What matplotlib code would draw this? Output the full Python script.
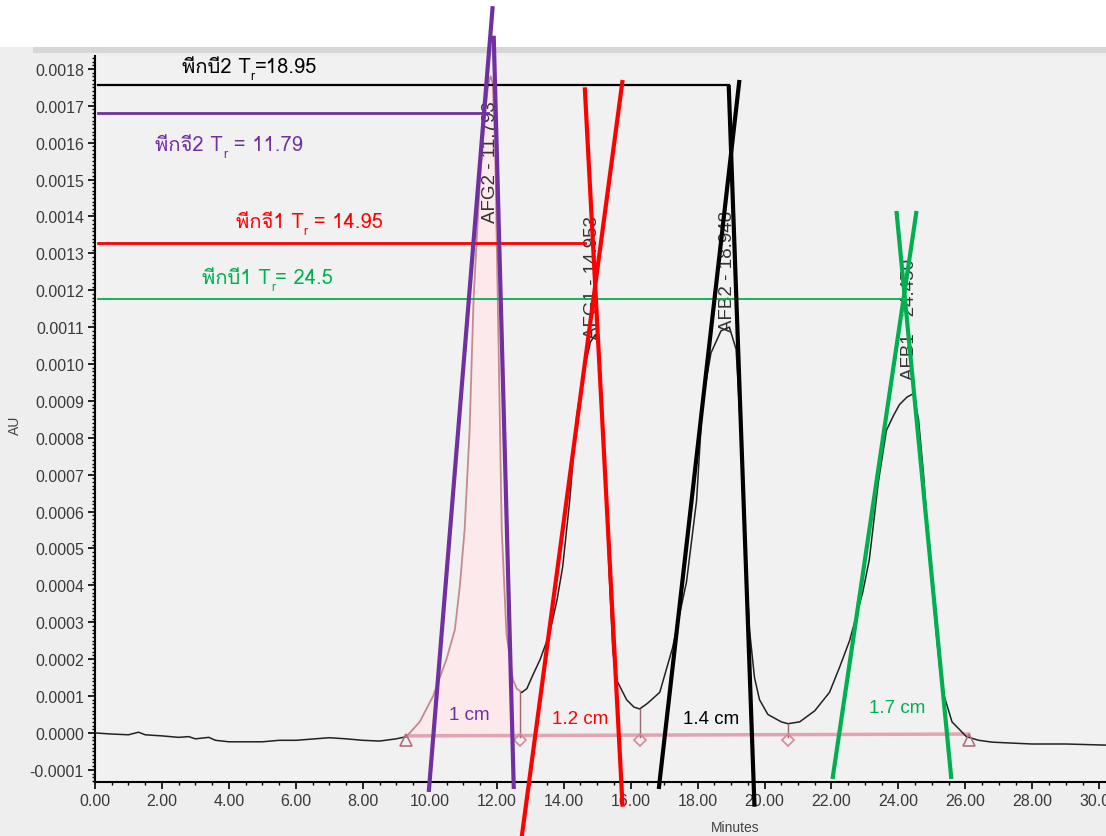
import numpy as np
import matplotlib
matplotlib.use("Agg")
import matplotlib.pyplot as plt
from matplotlib import font_manager
from matplotlib.patches import Rectangle
from matplotlib.ticker import MultipleLocator, FormatStrFormatter

# chromatogram trace (minutes, AU)
time_min = [0.0, 0.5, 1.0, 1.3, 1.5, 2.0, 2.5, 2.8, 3.0, 3.4, 3.6, 4.0, 5.0, 5.5, 6.0, 7.0, 7.5,
            8.0, 8.5, 9.0, 9.3,
            9.7, 10.1, 10.5, 10.75, 10.9, 11.04, 11.19, 11.31, 11.5, 11.65, 11.75, 11.82, 11.88,
            11.95, 12.03, 12.15, 12.29, 12.48, 12.6, 12.75,
            12.9, 13.07, 13.3, 13.58, 13.8, 13.97, 14.18, 14.39, 14.6, 14.8, 14.95, 15.05, 15.2,
            15.35, 15.47, 15.6, 15.88, 16.1, 16.27,
            16.5, 16.87, 17.25, 17.67, 17.97, 18.15, 18.4, 18.7, 18.95, 19.15, 19.3, 19.45, 19.55,
            19.7, 19.85, 20.1, 20.5, 20.7,
            21.05, 21.5, 21.94, 22.25, 22.54, 22.93, 23.13, 23.4, 23.64, 23.85, 24.03, 24.25, 24.45,
            24.6, 24.75, 24.93, 25.15, 25.3, 25.6, 26.03, 26.4, 26.8, 27.5, 28.0, 29.0, 30.2]
signal_au = [0.0, -0.000003, -0.000005, 0.000002, -0.000005, -0.000008, -0.000012, -0.00001, -0.000016,
             -0.000012, -0.00002, -0.000024, -0.000024, -0.00002, -0.00002, -0.000013, -0.000016,
             -0.00002, -0.000022, -0.000016, -0.00001,
             0.00003, 0.0001, 0.0002, 0.00028, 0.0004, 0.00055, 0.00082, 0.00118, 0.0015, 0.00168,
             0.00176, 0.00178, 0.00176, 0.0016, 0.00118, 0.00055, 0.00027, 0.000145, 0.00012, 0.00011,
             0.00012, 0.000155, 0.0002, 0.00027, 0.00036, 0.00045, 0.00063, 0.00086, 0.00098, 0.00106,
             0.00108, 0.00104, 0.0008, 0.00045, 0.00022, 0.00014, 0.00009, 0.00007, 0.000065,
             0.00008, 0.00011, 0.00023, 0.00041, 0.00063, 0.0009, 0.00103, 0.00109, 0.0011, 0.00104,
             0.0008, 0.00045, 0.00028, 0.00015, 0.00009, 0.00005, 0.00003, 0.000025,
             0.00003, 0.00006, 0.00011, 0.00018, 0.00025, 0.00038, 0.00047, 0.00068, 0.00082, 0.00086,
             0.00089, 0.00091, 0.00092, 0.00085, 0.0007, 0.00047, 0.00025, 0.00012, 0.00003, -0.00001,
             -0.00002, -0.000025, -0.000028, -0.00003, -0.00003, -0.000033]

# integration marks
peak_start, peak_end = 9.3, 26.1
valley_times = [12.7, 16.27, 20.7]
valley_values = [0.00011, 0.000065, 0.000025]
peak_names = ["AFG2 - 11.793", "AFG1 - 14.953", "AFB2 - 18.948", "AFB1 - 24.450"]
peak_label_x = [11.82, 14.87, 18.9, 24.33]
peak_label_y = [0.001385, 0.00107, 0.00109, 0.00096]

# hand drawn annotations
colors = ["#7030a0", "#ff0000", "#000000", "#00b050"]
level_names = ["พีกจี2", "พีกจี1", "พีกบี2", "พีกบี1"]
level_values = ["11.79", "14.95", "18.95", "24.5"]
level_seps = [" = ", " = ", "=", "= "]
level_y = [0.00168, 0.001328, 0.001756, 0.001176]
level_end = [11.73, 14.63, 18.93, 24.18]
level_lw = [2.0, 2.0, 1.6, 1.3]
label_x = [1.8, 4.2, 2.6, 3.2]
label_y = [0.00157, 0.00136, 0.00178, 0.00121]
tangent_left = [(9.97, -0.00016, 11.88, 0.00197), (12.75, -0.00028, 15.76, 0.00177),
                (16.84, -0.000152, 19.25, 0.00177), (22.03, -0.000125, 24.54, 0.001415)]
tangent_right = [(11.91, 0.00189, 12.51, -0.000152), (14.63, 0.00175, 15.76, -0.0002),
                 (18.93, 0.001756, 19.70, -0.0002), (23.94, 0.001415, 25.58, -0.000125)]
width_labels = ["1 cm", "1.2 cm", "1.4 cm", "1.7 cm"]
width_x = [11.19, 14.48, 18.39, 23.97]
width_y = [0.00005, 0.000038, 0.000038, 0.00007]

# find a font that has Thai letters
thai_font = None
try:
    from fontTools.ttLib import TTFont
    for fe in font_manager.fontManager.ttflist:
        try:
            cmap = TTFont(fe.fname, fontNumber=0, lazy=True).getBestCmap()
        except Exception:
            continue
        if cmap and 0x0E1E in cmap and 0x0E35 in cmap:
            thai_font = fe.name
            break
except ImportError:
    pass
label_family = ([thai_font] if thai_font else []) + ["Liberation Sans", "DejaVu Sans"]

plt.rcParams["font.family"] = ["Liberation Sans", "DejaVu Sans"]
plt.rcParams["axes.unicode_minus"] = False

fig = plt.figure(figsize=(11.06, 8.37), dpi=100, facecolor="#eeeeee")
fig.patches.append(Rectangle((0, 789 / 837), 1, 48 / 837, transform=fig.transFigure,
                             facecolor="white", edgecolor="none", zorder=-2))
fig.patches.append(Rectangle((0.03, 783 / 837), 0.97, 6 / 837, transform=fig.transFigure,
                             facecolor="#d6d6d6", edgecolor="none", zorder=-1))
ax = fig.add_axes([95 / 1106, 54 / 837, 1011 / 1106, 726 / 837])
ax.set_facecolor("#f1f1f1")

t = np.array(time_min)
s = np.array(signal_au)
p1 = (t >= peak_start) & (t <= 12.75)
ax.fill_between(t[p1], s[p1], -0.000008, color="#fbe9ec", zorder=1)
ax.plot(t[t <= peak_start], s[t <= peak_start], color="#222222", lw=1.1, zorder=3)
ax.plot(t[p1], s[p1], color="#c58a8f", lw=1.3, zorder=3)
ax.plot(t[t >= 12.75], s[t >= 12.75], color="#222222", lw=1.1, zorder=3)

# baseline, drop lines and markers
ax.plot([peak_start, peak_end], [-0.000008, -0.000003], color="#e3a3b1", lw=2.5, zorder=2)
for vx, vy in zip(valley_times, valley_values):
    ax.plot([vx, vx], [vy, -0.000012], color="#9a6a70", lw=1.0, zorder=3)
ax.plot(valley_times, [-0.00002] * 3, ls="none", marker="D", ms=6, mfc="none",
        mec="#d48a9a", mew=1.2, zorder=4)
ax.plot([peak_start, peak_end], [-0.00002, -0.00002], ls="none", marker="^", ms=8, mfc="none",
        mec="#b07080", mew=1.2, zorder=4)

for name, px, py in zip(peak_names, peak_label_x, peak_label_y):
    ax.text(px, py, name, rotation=90, ha="center", va="bottom", fontsize=13.5, color="#333333",
            zorder=5)

# horizontal level lines and Tr labels
for i in range(4):
    ax.plot([0.1, level_end[i]], [level_y[i], level_y[i]], color=colors[i], lw=level_lw[i], zorder=6)
    t1 = ax.text(label_x[i], label_y[i], level_names[i] + " T", fontsize=14.5, color=colors[i],
                 family=label_family, va="bottom", ha="left", zorder=7)
    t2 = ax.annotate("r", xy=(1, 0), xycoords=t1, fontsize=9, color=colors[i],
                     family=label_family, va="center", ha="left", zorder=7)
    ax.annotate(level_seps[i] + level_values[i], xy=(1, 0), xycoords=(t2, t1), fontsize=14.5,
                color=colors[i], family=label_family, va="bottom", ha="left", zorder=7)

# tangent lines
for i in range(4):
    for x0, y0, x1, y1 in (tangent_left[i], tangent_right[i]):
        ax.plot([x0, x1], [y0, y1], color=colors[i], lw=3.0, clip_on=False, zorder=8,
                solid_capstyle="butt")
    ax.text(width_x[i], width_y[i], width_labels[i], fontsize=13.5, color=colors[i],
            ha="center", va="center", zorder=7)

ax.set_xlim(0, 30.2)
ax.set_ylim(-0.000133, 0.001835)
ax.xaxis.set_major_locator(MultipleLocator(2))
ax.xaxis.set_minor_locator(MultipleLocator(0.5))
ax.xaxis.set_major_formatter(FormatStrFormatter("%.2f"))
ax.yaxis.set_major_locator(MultipleLocator(0.0001))
ax.yaxis.set_minor_locator(MultipleLocator(0.00001))
ax.yaxis.set_major_formatter(FormatStrFormatter("%.4f"))
ax.tick_params(which="major", direction="out", length=5, width=1.2, labelsize=11.5,
               labelcolor="#3a3a3a", pad=3)
ax.tick_params(which="minor", direction="out", length=2.5, width=1.0)
for side in ("top", "right"):
    ax.spines[side].set_visible(False)
for side in ("left", "bottom"):
    ax.spines[side].set_linewidth(1.5)
ax.set_xlabel("Minutes", fontsize=10, color="#444444", labelpad=4)
ax.xaxis.set_label_coords((735 - 95) / 1011, -0.052)
ax.set_ylabel("AU", fontsize=10, color="#444444")
ax.yaxis.set_label_coords(-0.072, 0.493)

fig.savefig("out.png", dpi=100, facecolor=fig.get_facecolor())
